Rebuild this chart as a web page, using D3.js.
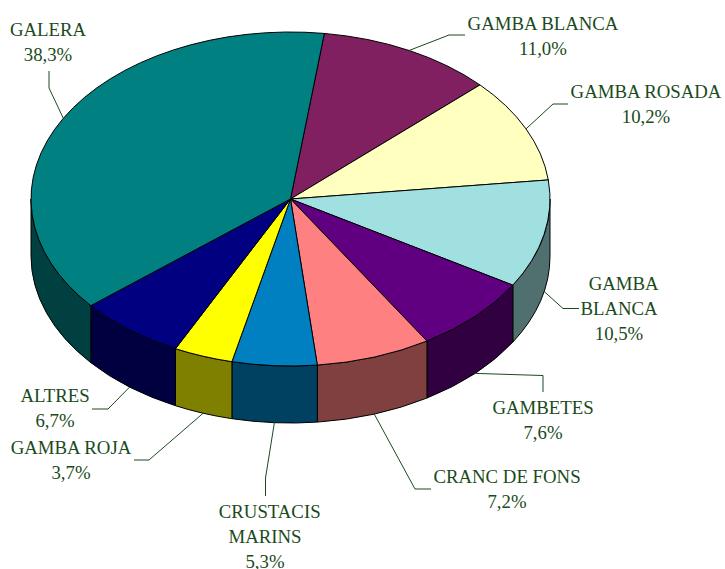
<!DOCTYPE html>
<html>
<head>
<meta charset="utf-8">
<script src="https://cdn.jsdelivr.net/npm/d3@7"></script>
<style>
    html, body { margin: 0; padding: 0; background: #fff; }
    svg { display: block; }
    text { font-family: "Liberation Serif", serif; font-size: 18.8px; fill: #1a4a20; text-anchor: middle; }
</style>
</head>
<body>
<div id="chart"></div>
<script>
'use strict';

// data, clockwise from the top of the pie
const categories = ['GAMBA BLANCA', 'GAMBA ROSADA', 'GAMBA BLANCA', 'GAMBETES', 'CRANC DE FONS',
    'CRUSTACIS MARINS', 'GAMBA ROJA', 'ALTRES', 'GALERA'];
const shares = [11.0, 10.2, 10.5, 7.6, 7.2, 5.3, 3.7, 6.7, 38.3];
const shareLabels = ['11,0%', '10,2%', '10,5%', '7,6%', '7,2%', '5,3%', '3,7%', '6,7%', '38,3%'];

const topColors = ['#802060', '#ffffc0', '#a0e0e0', '#600080', '#ff8080', '#0080c0', '#ffff00', '#000080', '#008080'];
const sideColors = ['#401030', '#808060', '#507070', '#300040', '#804040', '#004060', '#808000', '#000040', '#004040'];

// label lines wrapped like the original, the nbsp keep the off-centre wrapped lines
const labelLines = [['GAMBA BLANCA'], ['GAMBA ROSADA'], ['\u00a0\u00a0GAMBA', 'BLANCA'], ['GAMBETES'], ['CRANC DE FONS'],
    ['\u00a0\u00a0CRUSTACIS', 'MARINS'], ['GAMBA ROJA'], ['ALTRES'], ['GALERA']];
// centre / first baseline of each label
const labelPos = [[543, 30], [646, 98], [619, 290], [543, 414], [507, 483], [265, 518], [71, 454], [55, 402], [48, 36]];
// leader line: elbow, then end next to the label
const leaders = [
    [[449, 35], [465, 35]],
    [[553, 104], [568, 104]],
    [[563, 308.5], [579, 308.5]],
    [[543, 375.5], [543, 392]],
    [[415, 489], [431, 489]],
    [[265.5, 478], [265.5, 496]],
    [[149, 460], [134, 460]],
    [[108, 409], [92, 409]],
    [[49, 88], [49, 71]]
];

const width = 725, height = 569;
const cx = 290.5, cy = 199, rx = 259.5, ry = 167, depth = 57;
const lineHeight = 25;
const startAngle = 7.5 * Math.PI / 180;

const svg = d3.select('#chart').append('svg')
    .attr('width', width)
    .attr('height', height);

const pie = d3.pie().sort(null)
    .startAngle(startAngle)
    .endAngle(startAngle + 2 * Math.PI);
const arcs = pie(shares);

// angle 0 is up, going clockwise
function px(a) { return cx + rx * Math.sin(a); }
function py(a) { return cy - ry * Math.cos(a); }

/**
 * Wall of the pie between two angles, only the front half is visible
 */
function wallPath(a0, a1) {
    let from = Math.max(a0, Math.PI / 2);
    let to = Math.min(a1, 3 * Math.PI / 2);
    if (from >= to) {
        return null;
    }
    return 'M' + px(from) + ',' + py(from) +
        'A' + rx + ',' + ry + ' 0 0 1 ' + px(to) + ',' + py(to) +
        'L' + px(to) + ',' + (py(to) + depth) +
        'A' + rx + ',' + ry + ' 0 0 0 ' + px(from) + ',' + (py(from) + depth) +
        'Z';
}

// walls first, the top goes over them
svg.append('g').selectAll('path')
    .data(arcs.filter(d => wallPath(d.startAngle, d.endAngle)))
    .enter().append('path')
    .attr('d', d => wallPath(d.startAngle, d.endAngle))
    .style('fill', d => sideColors[d.index])
    .style('stroke', '#000')
    .style('stroke-width', 1);

const arc = d3.arc().innerRadius(0).outerRadius(rx);

svg.append('g')
    .attr('transform', 'translate(' + cx + ',' + cy + ') scale(1,' + (ry / rx) + ')')
    .selectAll('path')
    .data(arcs)
    .enter().append('path')
    .attr('d', arc)
    .attr('vector-effect', 'non-scaling-stroke')
    .style('fill', d => topColors[d.index])
    .style('stroke', '#000')
    .style('stroke-width', 1)
    .style('stroke-linejoin', 'round');

// leader lines start on the outer edge, at the middle of the slice
const leaderLine = d3.line();
svg.append('g').selectAll('path')
    .data(arcs)
    .enter().append('path')
    .attr('d', function(d) {
        let mid = (d.startAngle + d.endAngle) / 2;
        let front = Math.cos(mid) < 0;
        let start = [px(mid), py(mid) + (front ? depth : 0)];
        return leaderLine([start].concat(leaders[d.index]));
    })
    .style('fill', 'none')
    .style('stroke', '#1a4a20')
    .style('stroke-width', 1);

// labels
const labels = svg.append('g').selectAll('text')
    .data(categories)
    .enter().append('text')
    .attr('transform', (d, i) => 'translate(' + labelPos[i][0] + ',' + labelPos[i][1] + ')');

labels.each(function(d, i) {
    let lines = labelLines[i].concat([shareLabels[i]]);
    d3.select(this).selectAll('tspan')
        .data(lines)
        .enter().append('tspan')
        .attr('x', 0)
        .attr('y', (l, j) => j * lineHeight)
        .text(l => l);
});
</script>
</body>
</html>
